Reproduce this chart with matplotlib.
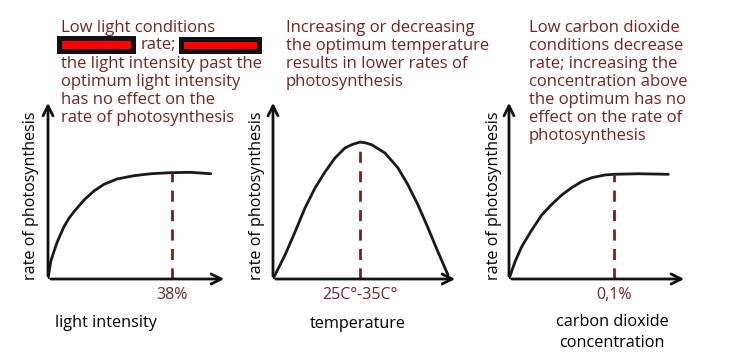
import matplotlib
matplotlib.use("Agg")
import matplotlib.pyplot as plt
from matplotlib.patches import Rectangle

# --- données (x, y en % de la longueur des axes) ---
light_x = [0, 1.5, 3.4, 5.2, 8.9, 11.7, 14.5, 20.1, 25.7, 31.3, 38.7, 48.0, 57.4, 68.5, 79.7, 90.9]
light_y = [0, 9.7, 15.6, 20.8, 29.2, 33.9, 37.6, 44.1, 49.2, 52.9, 55.9, 57.7, 58.8, 59.4, 59.6, 58.8]
light_opt = 69.0

temp_x = [0, 6.5, 11.9, 17.3, 22.7, 28.1, 33.5, 38.9, 42.7, 47.0, 50.3, 53.5, 60.5, 67.6, 73.0, 78.4, 83.8, 89.2, 94.6]
temp_y = [0, 13.4, 26.3, 39.7, 50.8, 59.8, 67.6, 73.2, 75.1, 76.5, 76.0, 74.9, 70.4, 62.0, 52.5, 41.3, 28.5, 15.1, 2.2]
temp_opt = 47.0

co2_x = [0, 3.4, 7.1, 12.8, 18.4, 24.0, 29.6, 35.2, 40.8, 46.5, 53.9, 59.2, 72.6, 89.5]
co2_y = [0, 9.7, 18.0, 27.4, 35.8, 41.7, 46.9, 51.0, 54.4, 56.6, 58.1, 58.5, 58.8, 58.5]
co2_opt = 59.2

tick_labels = ["38%", "25C°-35C°", "0,1%"]
x_labels = ["light intensity", "temperature", "carbon dioxide\nconcentration"]
y_label = "rate of photosynthesis"
# chaque note : liste de blocs de lignes (le 2e bloc du 1er panneau vient après la ligne masquée)
notes = [
    ["Low light conditions",
     "the light intensity past the\noptimum light intensity\nhas no effect on the\nrate of photosynthesis"],
    ["Increasing or decreasing\nthe optimum temperature\nresults in lower rates of\nphotosynthesis"],
    ["Low carbon dioxide\nconditions decrease\nrate; increasing the\nconcentration above\nthe optimum has no\neffect on the rate of\nphotosynthesis"],
]

W, H = 741, 364
RED = '#722424'
plt.rcParams['font.family'] = ['Open Sans', 'DejaVu Sans']

fig = plt.figure(figsize=(W / 100, H / 100), dpi=100)


def px(x, y):  # pixels -> fraction de la figure
    return x / W, 1 - y / H


# cadres des axes en pixels : (gauche, droite)
frames = [(48, 227), (273, 458), (509, 687)]
curves = [(light_x, light_y, light_opt), (temp_x, temp_y, temp_opt), (co2_x, co2_y, co2_opt)]
ylab_x = [31, 257, 494]
note_x = [61, 286, 529]

for i, ((x0, x1), (cx, cy, opt)) in enumerate(zip(frames, curves)):
    ax = fig.add_axes([x0 / W, (H - 279) / H, (x1 - x0) / W, 179 / H])
    ax.set_xlim(0, 100)
    ax.set_ylim(0, 100)
    ax.axis('off')

    # axes avec flèches
    for tip in [(1, 0), (0, 1)]:
        ax.annotate('', xy=tip, xytext=(0, 0), xycoords='axes fraction',
                    arrowprops=dict(arrowstyle='->', lw=2, color='#111111', mutation_scale=18))

    # courbe
    ax.plot(cx, cy, color='#1a1a1a', lw=2, solid_capstyle='round', solid_joinstyle='round')

    # optimum en pointillés
    top = max(cy) if i == 1 else cy[cx.index(opt)] if opt in cx else 59
    ax.plot([opt, opt], [0, top], color=RED, lw=2, dashes=(4, 3))

    # étiquette de l'optimum
    ax.text(opt, -9, tick_labels[i], color=RED, fontsize=11.5, ha='center', va='center')

    # titres des axes
    fig.text(*px(ylab_x[i], 196), y_label, rotation=90, fontsize=11.6,
             ha='center', va='center', color='black')

    # notes explicatives (18 px par ligne)
    for k, block in enumerate(notes[i]):
        fig.text(*px(note_x[i], 20 + 36 * k), block, color=RED, fontsize=12,
                 ha='left', va='top', linespacing=1.17)

# étiquettes de l'axe x
fig.text(*px(106, 323), x_labels[0], fontsize=11.7, ha='center', va='center')
fig.text(*px(358, 324), x_labels[1], fontsize=11.7, ha='center', va='center')
fig.text(*px(612, 314), x_labels[2], fontsize=11.7, ha='center', va='top', linespacing=1.44)

# mots masqués (cadres noirs + rouge)
fig.text(*px(141, 45), "rate;", color=RED, fontsize=12, ha='left', va='center')
for bx0, bx1, by0, by1 in [(59.5, 133.5, 38, 51), (180.5, 258.5, 39, 51)]:
    fig.add_artist(Rectangle(px(bx0, by1), (bx1 - bx0) / W, (by1 - by0) / H,
                             transform=fig.transFigure, facecolor='#ff0000',
                             edgecolor='#111111', lw=3.6))

fig.savefig('out.png', dpi=100)
